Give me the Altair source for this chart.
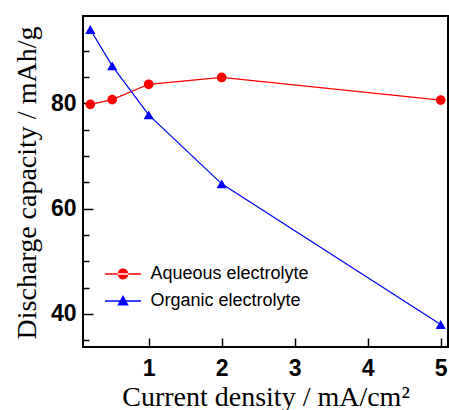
import altair as alt
import pandas as pd

current = [0.2, 0.5, 1, 2, 5]
aqueous = [79.8, 80.7, 83.6, 84.9, 80.6]
organic = [94.0, 87.1, 77.8, 64.7, 38.0]
series_names = ["Aqueous electrolyte", "Organic electrolyte"]
series_colors = ["#ff0000", "#0000ff"]
x_ticks = [1, 2, 3, 4, 5]
y_major = [40, 60, 80]
y_minor = [35, 45, 50, 55, 65, 70, 75, 85, 90]

df = pd.DataFrame({
    "current": current * 2,
    "capacity": aqueous + organic,
    "series": [series_names[0]] * len(current) + [series_names[1]] * len(current),
})

xs = alt.Scale(domain=[0.1, 5.1], nice=False, zero=False)
ys = alt.Scale(domain=[33.73, 96.57], nice=False, zero=False)

circle_path = ("M-1,-0.04H1V0.04H-1Z "
               "M-0.3,0A0.3,0.3 0 1,0 0.3,0A0.3,0.3 0 1,0 -0.3,0Z")
tri_path = ("M-1,-0.04H1V0.04H-1Z "
            "M0,-0.33L0.32,0.25L-0.32,0.25Z")

LBL = dict(labelFont="Liberation Sans", labelFontWeight="bold", labelFontSize=23,
           labelColor="black")
TTL = dict(titleFont="Liberation Serif", titleFontSize=28, titleFontWeight="normal",
           titleColor="black")

x_label_axis = alt.Axis(orient="bottom", values=x_ticks, ticks=False, domain=False, grid=False,
                        labelPadding=10, title="Current density / mA/cm²",
                        titleBaseline="alphabetic", titleY=58, **LBL, **TTL)
y_label_axis = alt.Axis(orient="left", values=y_major, ticks=False, domain=False, grid=False,
                        labelPadding=7, title="Discharge capacity / mAh/g",
                        titleBaseline="alphabetic", titleAngle=270, titleX=-48,
                        titleY=166.5, titleAlign="center", **LBL, **TTL)
x_tick_axis = alt.Axis(orient="bottom", values=x_ticks, labels=False, domain=False, grid=False,
                       ticks=True, tickSize=9, tickWidth=1.5, tickColor="black",
                       offset=-9, title=None)
y_major_axis = alt.Axis(orient="left", values=y_major, labels=False, domain=False, grid=False,
                        ticks=True, tickSize=10, tickWidth=1.5, tickColor="black",
                        offset=-10, title=None)
y_minor_axis = alt.Axis(orient="left", values=y_minor, labels=False, domain=False, grid=False,
                        ticks=True, tickSize=6, tickWidth=1.5, tickColor="black",
                        offset=-6, title=None)

base = alt.Chart(df)


def sel(i):
    return base.transform_filter(alt.datum.series == series_names[i])


line_a = sel(0).mark_line(color=series_colors[0], strokeWidth=1.2).encode(
    x=alt.X("current:Q", scale=xs, axis=x_label_axis),
    y=alt.Y("capacity:Q", scale=ys, axis=y_label_axis),
)
line_b = sel(1).mark_line(color=series_colors[1], strokeWidth=1.2).encode(
    x=alt.X("current:Q", scale=xs, axis=None),
    y=alt.Y("capacity:Q", scale=ys, axis=y_minor_axis),
)
pts_a = sel(0).mark_point(shape="circle", filled=True, size=95, opacity=1,
                          color=series_colors[0]).encode(
    x=alt.X("current:Q", scale=xs, axis=x_tick_axis),
    y=alt.Y("capacity:Q", scale=ys, axis=y_major_axis),
)
pts_b = sel(1).mark_point(shape="triangle-up", filled=True, size=105, opacity=1,
                          color=series_colors[1]).encode(
    x=alt.X("current:Q", scale=xs, axis=None),
    y=alt.Y("capacity:Q", scale=ys, axis=None),
)

leg = dict(title=None, orient="none", legendX=22, legendY=240, symbolSize=1296,
           symbolStrokeWidth=0, labelFont="Liberation Sans", labelFontSize=18,
           labelColor="black", labelOffset=9.5, padding=0, rowPadding=-4)

legend_layer = base.transform_filter("false").mark_point(filled=True, opacity=1).encode(
    x=alt.X("current:Q", scale=xs, axis=None),
    y=alt.Y("capacity:Q", scale=ys, axis=None),
    color=alt.Color("series:N", scale=alt.Scale(domain=series_names, range=series_colors),
                    legend=alt.Legend(**leg)),
    shape=alt.Shape("series:N", scale=alt.Scale(domain=series_names,
                                                range=[circle_path, tri_path]),
                    legend=alt.Legend(**leg)),
)

chart = alt.layer(line_a, line_b, pts_a, pts_b, legend_layer).resolve_axis(
    x="independent", y="independent"
).properties(
    width=365, height=331, autosize="none",
    padding={"left": 83, "top": 16, "right": 1, "bottom": 63},
).configure_view(stroke="black", strokeWidth=2)

chart.save("out.html", embed_options={"renderer": "svg", "actions": False})
